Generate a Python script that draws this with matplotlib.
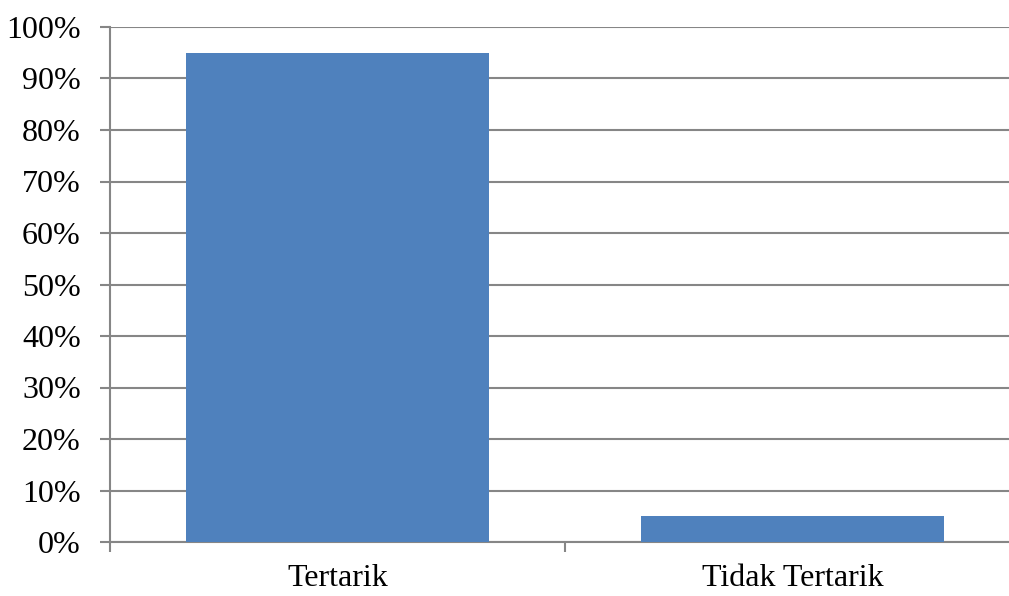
import matplotlib.pyplot as plt
from matplotlib.ticker import FixedLocator, PercentFormatter

# Data
categories = ["Tertarik", "Tidak Tertarik"]
values = [95, 5]
y_ticks = list(range(0, 101, 10))

GRID = "#868686"
BAR = "#4F81BD"

plt.rcParams['font.family'] = ['Liberation Serif', 'DejaVu Serif']

fig = plt.figure(figsize=(10.09, 5.96), dpi=100)
ax = fig.add_axes([110 / 1009, 1 - 542 / 596, 910 / 1009, (542 - 27) / 596])

# Bars
pos = list(range(len(categories)))
ax.bar(pos, values, width=0.667, color=BAR, zorder=3)

# Axes limits and grid
ax.set_xlim(-0.5, len(categories) - 0.5)
ax.set_ylim(0, 100)
ax.set_yticks(y_ticks)
ax.yaxis.set_major_formatter(PercentFormatter(decimals=0))
ax.grid(axis="y", color=GRID, linewidth=1.5, zorder=0)

# Category labels on minor ticks, boundary ticks on major
ax.xaxis.set_major_locator(FixedLocator([p - 0.5 for p in pos] + [pos[-1] + 0.5]))
ax.xaxis.set_minor_locator(FixedLocator(pos))
ax.set_xticklabels([], minor=False)
ax.set_xticklabels(categories, minor=True)
ax.tick_params(axis="x", which="major", length=7, width=1.5, color=GRID, direction="out")
ax.tick_params(axis="x", which="minor", length=0, pad=16, labelsize=23)
ax.tick_params(axis="y", length=7, width=1.5, color=GRID, pad=14, labelsize=23)

for side in ["top", "right"]:
    ax.spines[side].set_visible(False)
for side in ["left", "bottom"]:
    ax.spines[side].set_color(GRID)
    ax.spines[side].set_linewidth(1.5)

plt.savefig("out.png", dpi=100)
